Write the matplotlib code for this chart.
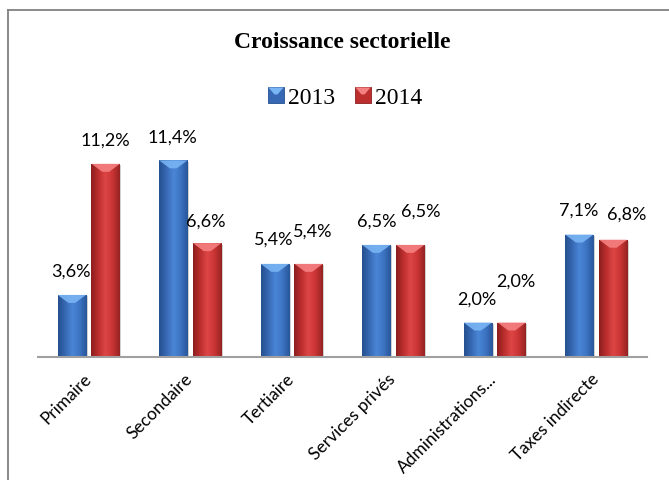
import numpy as np
import matplotlib
matplotlib.use("Agg")
import matplotlib.pyplot as plt
from matplotlib.colors import LinearSegmentedColormap
from matplotlib.patches import Rectangle, Polygon
from matplotlib.lines import Line2D
from matplotlib import transforms

# data
categories = ["Primaire", "Secondaire", "Tertiaire", "Services privés",
              "Administrations...", "Taxes indirecte"]
years = ["2013", "2014"]
values_2013 = [3.6, 11.4, 5.4, 6.5, 2.0, 7.1]
values_2014 = [11.2, 6.6, 5.4, 6.5, 2.0, 6.8]

# label offsets (pixels) from top centre of each bar, as placed in the original
label_off_2013 = [(-1, 23), (-1, 23), (-1, 24), (0, 23), (-1, 23), (-1, 24)]
label_off_2014 = [(0, 23), (-1, 22), (4, 32), (11, 33), (4, 41), (13, 25)]

blue = ["#24508f", "#3768b3", "#4a86d6", "#3d74c2", "#28569a"]
red = ["#8c1f1f", "#bd2e2e", "#de4646", "#c93434", "#962323"]
blue_top = "#79b4f4"
red_top = "#f58080"

W, H = 669, 480
fig = plt.figure(figsize=(W / 100, H / 100), dpi=100)

# outer frame (only left and top visible, the rest is cropped)
fig.add_artist(Line2D([8 / W, 8 / W], [0, 1 - 9.5 / H], color="#808080", lw=1.3,
                      transform=fig.transFigure))
fig.add_artist(Line2D([8 / W, 1], [1 - 9.5 / H, 1 - 9.5 / H], color="#808080", lw=1.3,
                      transform=fig.transFigure))

ax = fig.add_axes([38 / W, 1 - 357 / H, (647 - 38) / W, 207 / H])

x = np.arange(len(categories))
bw = 0.28
shift = 0.167


def pretty_bars(xs, vals, cols, topcol, offs):
    bars = ax.bar(xs, vals, bw, color=cols[2], zorder=2)
    cmap = LinearSegmentedColormap.from_list("g", cols)
    grad = np.linspace(0, 1, 64).reshape(1, -1)
    ppy = 207 / 12.0  # pixels per unit on y
    for rect, v, (dx, dy) in zip(bars, vals, offs):
        x0 = rect.get_x()
        w = rect.get_width()
        h = rect.get_height()
        # soft shadow
        sh = Rectangle((x0, 0), w, h, color="#000000", alpha=0.18, lw=0, zorder=1,
                       transform=transforms.offset_copy(ax.transData, fig=fig,
                                                        x=1.5, y=-1.5, units="dots"))
        ax.add_patch(sh)
        im = ax.imshow(grad, extent=[x0, x0 + w, 0, h], aspect="auto", cmap=cmap,
                       zorder=3, interpolation="bicubic")
        im.set_clip_path(rect)
        # bevelled top
        d = 8 / ppy
        xc = x0 + w / 2
        top = Polygon([(x0, h), (x0 + w, h), (xc + w * 0.12, h - d), (xc - w * 0.12, h - d)],
                      closed=True, color=topcol, alpha=0.9, lw=0, zorder=4)
        ax.add_patch(top)
        ax.annotate(f"{v:.1f}".replace(".", ",") + "%", (xc, h),
                    xytext=(dx, dy), textcoords="offset pixels",
                    ha="center", va="center", fontsize=13, family="Lato", color="black")
    return bars


pretty_bars(x - shift, values_2013, blue, blue_top, label_off_2013)
pretty_bars(x + shift, values_2014, red, red_top, label_off_2014)

ax.set_xlim(-0.5, len(categories) - 0.5)
ax.set_ylim(0, 12)
for s in ["top", "left", "right"]:
    ax.spines[s].set_visible(False)
ax.spines["bottom"].set_color("#a0a0a0")
ax.spines["bottom"].set_linewidth(1.5)
ax.spines["bottom"].set_zorder(5)
ax.set_yticks([])
ax.set_xticks(x)
ax.set_xticklabels(categories, rotation=45, ha="right", va="top", rotation_mode="anchor",
                   fontsize=12.5, family="Lato")
ax.tick_params(axis="x", length=0, pad=10)
# nudge the slanted labels a little to the left, like Excel does
nudge = transforms.ScaledTranslation(-6 / 100, 0, fig.dpi_scale_trans)
for lab in ax.get_xticklabels():
    lab.set_transform(lab.get_transform() + nudge)
ax.set_facecolor("none")


# legend
class BevelHandler:
    def __init__(self, cols, topcol):
        self.cols = cols
        self.topcol = topcol

    def legend_artist(self, legend, orig_handle, fontsize, handlebox):
        x0, y0 = -handlebox.xdescent, -handlebox.ydescent
        w, h = handlebox.width, handlebox.height
        tr = handlebox.get_transform()
        r = Rectangle((x0, y0), w, h, facecolor=self.cols[1], edgecolor=self.cols[0],
                      lw=0.6, transform=tr)
        handlebox.add_artist(r)
        p = Polygon([(x0, y0 + h), (x0 + w, y0 + h), (x0 + w * 0.6, y0 + h * 0.55),
                     (x0 + w * 0.4, y0 + h * 0.55)], closed=True, color=self.topcol,
                    lw=0, transform=tr)
        handlebox.add_artist(p)
        return r


h1 = Rectangle((0, 0), 1, 1)
h2 = Rectangle((0, 0), 1, 1)
fig.legend([h1, h2], years, loc="center", bbox_to_anchor=(345.5 / W, 1 - 98 / H),
           ncol=2, frameon=False, prop={"family": "Liberation Serif", "size": 17},
           handlelength=0.64, handleheight=0.64, handletextpad=0.2, columnspacing=0.85,
           handler_map={h1: BevelHandler(blue, blue_top), h2: BevelHandler(red, red_top)})

fig.text(342 / W, 1 - 43 / H, "Croissance sectorielle", ha="center", va="center",
         fontsize=17, fontweight="bold", family="Liberation Serif")

fig.savefig("out.png", dpi=100)
